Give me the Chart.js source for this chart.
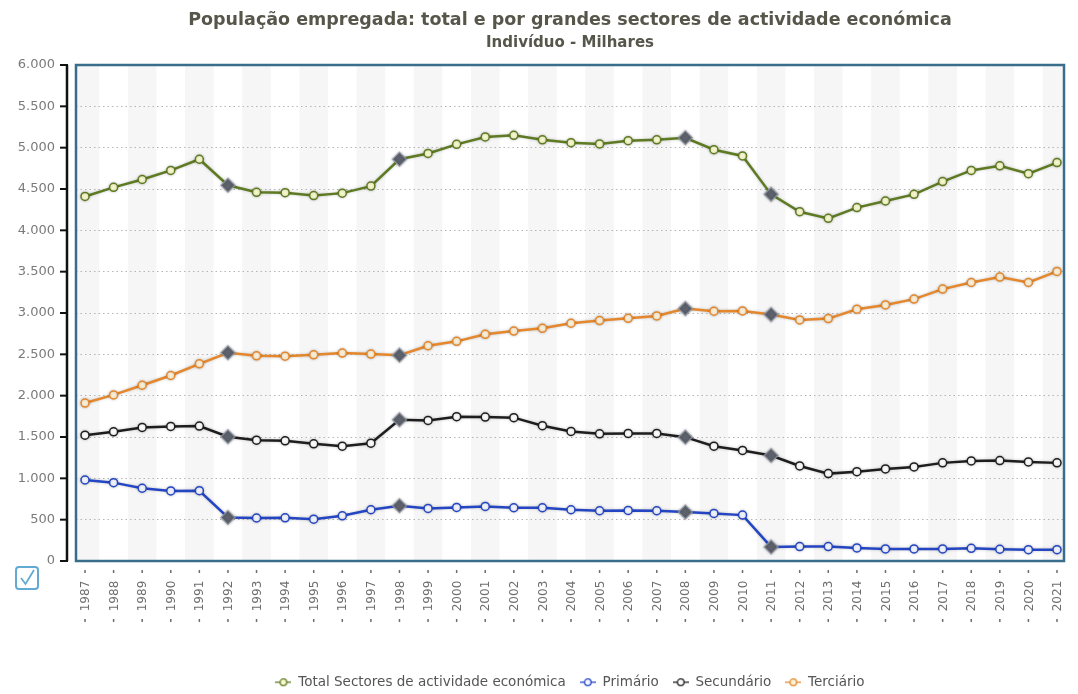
<!DOCTYPE html>
<html lang="pt">
<head>
<meta charset="utf-8">
<title>População empregada</title>
<script src="https://cdn.jsdelivr.net/npm/chart.js@4.4.1/dist/chart.umd.min.js"></script>
<style>
  html, body { margin: 0; padding: 0; background: #fff; }
  #wrap { width: 1078px; height: 694px; }
</style>
</head>
<body>
<div id="wrap"><canvas id="chart" width="1078" height="694"></canvas></div>
<script>
const years = [1987, 1988, 1989, 1990, 1991, 1992, 1993, 1994, 1995, 1996,
               1997, 1998, 1999, 2000, 2001, 2002, 2003, 2004, 2005, 2006,
               2007, 2008, 2009, 2010, 2011, 2012, 2013, 2014, 2015, 2016,
               2017, 2018, 2019, 2020, 2021];

const totalSectores = [4410, 4520, 4615, 4725, 4860, 4545, 4460, 4455, 4420, 4450,
                       4535, 4860, 4930, 5040, 5130, 5150, 5095, 5060, 5045, 5085,
                       5095, 5120, 4975, 4900, 4435, 4225, 4145, 4275, 4355, 4435,
                       4590, 4725, 4780, 4685, 4820];
const primario = [980, 948, 880, 848, 850, 526, 520, 522, 506, 547,
                  620, 668, 636, 648, 660, 644, 644, 620, 608, 612,
                  608, 592, 575, 555, 170, 174, 174, 158, 146, 146,
                  146, 154, 142, 137, 137];
const secundario = [1522, 1563, 1616, 1628, 1632, 1503, 1462, 1454, 1418, 1389,
                    1425, 1709, 1701, 1746, 1741, 1734, 1637, 1567, 1539, 1543,
                    1543, 1498, 1389, 1337, 1276, 1150, 1057, 1081, 1114, 1138,
                    1187, 1211, 1215, 1199, 1187];
const terciario = [1911, 2009, 2126, 2244, 2385, 2519, 2482, 2478, 2494, 2515,
                   2503, 2490, 2604, 2657, 2742, 2782, 2815, 2876, 2908, 2936,
                   2965, 3053, 3021, 3025, 2981, 2916, 2932, 3046, 3098, 3168,
                   3289, 3369, 3434, 3369, 3503];

// years marked with a series break (grey diamonds)
const breakYears = [1992, 1998, 2008, 2011];

const yMax = 6000;
const yStep = 500;

Chart.defaults.font.family = "'DejaVu Sans', Verdana, sans-serif";

function fmt(v) {
    return String(v).replace(/\B(?=(\d{3})+(?!\d))/g, '.');
}

function points(values) {
    return values.map((v, i) => ({ x: years[i], y: v }));
}

function isBreak(i) {
    return breakYears.includes(years[i]);
}

function legendIcon(line, fill) {
    const c = document.createElement('canvas');
    c.width = 16;
    c.height = 10;
    const g = c.getContext('2d');
    g.strokeStyle = line;
    g.lineWidth = 1.3;
    g.beginPath();
    g.moveTo(0, 5);
    g.lineTo(16, 5);
    g.stroke();
    g.fillStyle = fill;
    g.beginPath();
    g.arc(8, 5, 3.3, 0, Math.PI * 2);
    g.fill();
    g.stroke();
    return c;
}

function series(label, values, line, fill) {
    return {
        label: label,
        data: points(values),
        borderColor: line,
        backgroundColor: fill,
        borderWidth: 2.5,
        tension: 0,
        pointStyle: c => isBreak(c.dataIndex) ? 'rectRot' : 'circle',
        pointRadius: c => isBreak(c.dataIndex) ? 7 : 4,
        pointBackgroundColor: c => isBreak(c.dataIndex) ? '#5c616c' : fill,
        pointBorderColor: c => isBreak(c.dataIndex) ? 'rgba(150,155,165,0.75)' : line,
        pointBorderWidth: 1.5,
        icon: legendIcon(line, fill)
    };
}

const datasets = [
    series('Total Sectores de actividade económica', totalSectores, '#5e7a22', '#fafad0'),
    series('Primário', primario, '#2446c4', '#f4f7ff'),
    series('Secundário', secundario, '#1e1e1e', '#ffffff'),
    series('Terciário', terciario, '#e5872c', '#fdf2da')
];

const decor = {
    id: 'decor',
    beforeDraw(chart) {
        const { ctx, chartArea: a, scales: { x } } = chart;
        ctx.save();
        ctx.fillStyle = '#fff';
        ctx.fillRect(0, 0, chart.width, chart.height);
        const step = x.getPixelForValue(years[1]) - x.getPixelForValue(years[0]);
        ctx.beginPath();
        ctx.rect(a.left, a.top, a.width, a.height);
        ctx.clip();
        ctx.fillStyle = '#f6f6f6';
        years.forEach((yr, i) => {
            if (i % 2 === 0) {
                const px = x.getPixelForValue(yr);
                ctx.fillRect(px - step / 2, a.top, step, a.height);
            }
        });
        ctx.restore();
    },
    beforeDatasetDraw(chart) {
        const ctx = chart.ctx;
        ctx.save();
        ctx.shadowColor = 'rgba(0,0,0,0.22)';
        ctx.shadowBlur = 3;
    },
    afterDatasetDraw(chart) {
        chart.ctx.restore();
    },
    afterDraw(chart) {
        const { ctx, chartArea: a, scales: { x, y } } = chart;
        ctx.save();

        // plot frame
        ctx.strokeStyle = '#3a6d8b';
        ctx.lineWidth = 2.5;
        ctx.strokeRect(a.left, a.top, a.width, a.height);

        // black value axis, set off to the left of the frame
        ctx.strokeStyle = '#111';
        ctx.lineWidth = 2.5;
        ctx.beginPath();
        ctx.moveTo(67, y.getPixelForValue(yMax));
        ctx.lineTo(67, y.getPixelForValue(0));
        ctx.stroke();
        ctx.lineWidth = 2;
        for (let v = 0; v <= yMax; v += yStep) {
            const py = y.getPixelForValue(v);
            ctx.beginPath();
            ctx.moveTo(60, py);
            ctx.lineTo(68, py);
            ctx.stroke();
        }

        // year labels, reading bottom to top
        ctx.fillStyle = '#6e6e6e';
        ctx.font = "12px 'DejaVu Sans'";
        ctx.textAlign = 'center';
        ctx.textBaseline = 'middle';
        years.forEach(yr => {
            const px = x.getPixelForValue(yr);
            ctx.fillRect(px - 0.75, 570, 1.5, 3);
            ctx.fillRect(px - 0.75, 619, 1.5, 3);
            ctx.save();
            ctx.translate(px + 1, 596);
            ctx.rotate(-Math.PI / 2);
            ctx.fillText(String(yr), 0, 0);
            ctx.restore();
        });

        // checkbox icon
        ctx.strokeStyle = '#62aad4';
        ctx.lineWidth = 2;
        ctx.beginPath();
        ctx.roundRect(16, 567, 22, 22, 3);
        ctx.stroke();
        ctx.lineWidth = 1.8;
        ctx.beginPath();
        ctx.moveTo(21, 578);
        ctx.lineTo(25.5, 584);
        ctx.lineTo(34, 570);
        ctx.stroke();

        ctx.restore();
    }
};

new Chart(document.getElementById('chart'), {
    type: 'line',
    data: { datasets: datasets },
    plugins: [decor],
    options: {
        responsive: false,
        animation: false,
        devicePixelRatio: 1,
        layout: { padding: { top: 10, right: 14, bottom: -5, left: 0 } },
        scales: {
            x: {
                type: 'linear',
                min: 1986.685,
                max: 2021.245,
                ticks: { display: false },
                grid: { display: false },
                border: { display: false },
                afterFit: s => { s.height = 100.5; }
            },
            y: {
                min: 0,
                max: yMax,
                ticks: {
                    stepSize: yStep,
                    padding: 21,
                    color: '#7a7a7a',
                    font: { size: 13 },
                    callback: v => fmt(v)
                },
                grid: { color: '#b5b5b5', lineWidth: 1, drawTicks: false },
                border: { display: false, dash: [1.5, 3] },
                afterFit: s => { s.width = 76; }
            }
        },
        plugins: {
            tooltip: { enabled: false },
            title: {
                display: true,
                fullSize: false,
                text: 'População empregada: total e por grandes sectores de actividade económica',
                color: '#56564b',
                font: { size: 17.5, weight: 'bold' },
                padding: { top: 0, bottom: 0 }
            },
            subtitle: {
                display: true,
                fullSize: false,
                text: 'Indivíduo - Milhares',
                color: '#56564b',
                font: { size: 15, weight: 'bold' },
                padding: { top: 3, bottom: 13 }
            },
            legend: {
                position: 'bottom',
                fullSize: false,
                labels: {
                    usePointStyle: true,
                    pointStyleWidth: 16,
                    padding: 14,
                    color: '#555',
                    font: { size: 13.5 },
                    generateLabels(chart) {
                        const items = Chart.defaults.plugins.legend.labels.generateLabels(chart);
                        items.forEach(it => {
                            it.pointStyle = chart.data.datasets[it.datasetIndex].icon;
                        });
                        return items;
                    }
                }
            }
        }
    }
});
</script>
</body>
</html>
